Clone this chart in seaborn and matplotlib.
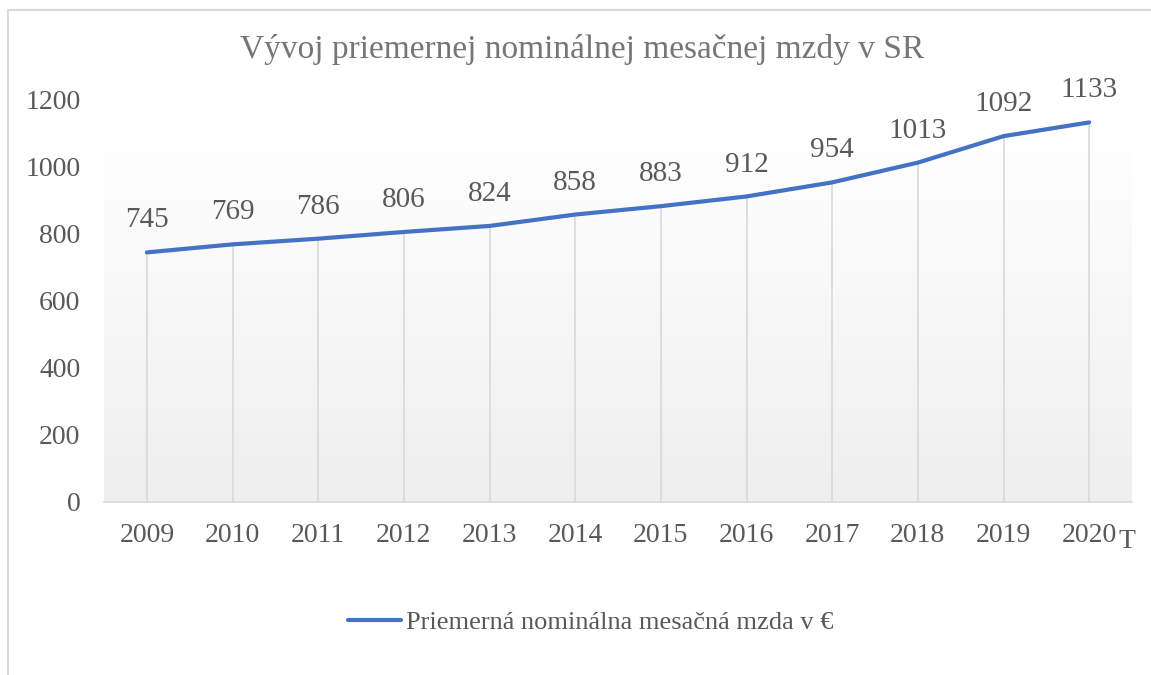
import numpy as np
import pandas as pd
import matplotlib
matplotlib.use("Agg")
import matplotlib.pyplot as plt
from matplotlib.patches import Rectangle
from matplotlib.colors import LinearSegmentedColormap
import seaborn as sns

# ── Data ──────────────────────────────────────────────────────────────
years = ["2009", "2010", "2011", "2012", "2013", "2014",
         "2015", "2016", "2017", "2018", "2019", "2020"]
wages = [745, 769, 786, 806, 824, 858, 883, 912, 954, 1013, 1092, 1133]
yticks = [0, 200, 400, 600, 800, 1000, 1200]

title = "Vývoj priemernej nominálnej mesačnej mzdy v SR"
series_name = "Priemerná nominálna mesačná mzda v €"

sns.set_theme(style="white")
plt.rcParams["font.family"] = ["Liberation Serif", "DejaVu Serif"]

TXT = "#595959"
LINE = "#4472C4"

df = pd.DataFrame({"idx": range(len(years)), "wage": wages})

fig = plt.figure(figsize=(11.51, 6.75), dpi=100)
ax = fig.add_axes([0.0904, 0.2563, 0.8931, 0.5956])

# plot-area gradient
grad = LinearSegmentedColormap.from_list("g", ["#efefef", "#fefefe"])
ax.imshow(np.linspace(0, 1, 256).reshape(-1, 1), cmap=grad, aspect="auto",
          origin="lower", extent=(-0.5, len(years) - 0.5, 0, 1045), zorder=0)

# drop lines
ax.vlines(df["idx"], 0, df["wage"], color="#d9d9d9", lw=1.2, zorder=1)

sns.lineplot(data=df, x="idx", y="wage", color=LINE, lw=3, ax=ax,
             label=series_name, zorder=3, legend=False)

for i, v in zip(df["idx"], df["wage"]):
    ax.annotate(f"{v}", (i, v), xytext=(0, 23), textcoords="offset points",
                ha="center", va="center", fontsize=21, color=TXT)

ax.set_xlim(-0.5, len(years) - 0.5)
ax.set_ylim(0, 1200)
ax.set_xticks(range(len(years)))
ax.set_xticklabels(years)
ax.set_yticks(yticks)
ax.tick_params(axis="x", length=0, pad=15, labelsize=20, labelcolor=TXT)
ax.tick_params(axis="y", length=0, pad=17, labelsize=20, labelcolor=TXT)
ax.set_xlabel("")
ax.set_ylabel("")
for s in ["top", "right", "left"]:
    ax.spines[s].set_visible(False)
ax.spines["bottom"].set_color("#d9d9d9")
ax.spines["bottom"].set_linewidth(1.2)

fig.text(0.979, 0.198, "T", fontsize=20, color=TXT, ha="center", va="center")
fig.text(0.506, 0.926, title, fontsize=24, color="#767676", ha="center", va="center")

handles, labels = ax.get_legend_handles_labels()
fig.legend(handles, labels, loc="center", bbox_to_anchor=(0.513, 0.078),
           frameon=False, fontsize=19, labelcolor=TXT,
           handlelength=2.0, handletextpad=0.2)

# chart-area border
fig.patches.append(Rectangle((8 / 1151, -0.1), 1.2, 1.1 - 10 / 675,
                             transform=fig.transFigure, fill=False,
                             edgecolor="#d9d9d9", lw=1.5))

fig.savefig("out.png", dpi=100)
plt.close(fig)
